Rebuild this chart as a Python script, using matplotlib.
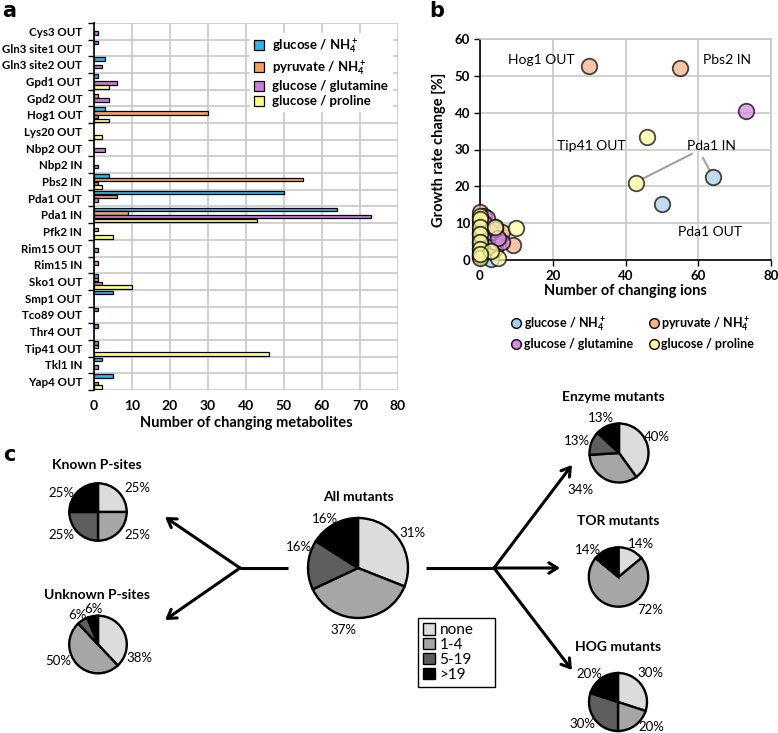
import matplotlib
matplotlib.use('Agg')
import matplotlib.pyplot as plt
from matplotlib.patches import Patch
from matplotlib.lines import Line2D
import numpy as np

plt.rcParams['font.family'] = ['Lato', 'DejaVu Sans']
plt.rcParams['mathtext.default'] = 'regular'

# ---------------- data ----------------
# panel a
mutants = ["Cys3 OUT", "Gln3 site1 OUT", "Gln3 site2 OUT", "Gpd1 OUT", "Gpd2 OUT",
           "Hog1 OUT", "Lys20 OUT", "Nbp2 OUT", "Nbp2 IN", "Pbs2 IN", "Pda1 OUT",
           "Pda1 IN", "Pfk2 IN", "Rim15 OUT", "Rim15 IN", "Sko1 OUT", "Smp1 OUT",
           "Tco89 OUT", "Thr4 OUT", "Tip41 OUT", "Tkl1 IN", "Yap4 OUT"]
met_glc_nh4 = [0, 1, 3, 1, 0, 3, 0, 0, 0, 4, 50, 64, 0, 0, 0, 1, 5, 1, 1, 1, 2, 5]
met_pyr_nh4 = [0, 0, 0, 0, 1, 30, 0, 0, 0, 55, 6, 9, 1, 0, 1, 1, 0, 0, 0, 1, 0, 0]
met_glc_gln = [1, 0, 2, 6, 4, 1, 0, 3, 1, 1, 1, 73, 0, 1, 0, 2, 0, 0, 0, 0, 1, 1]
met_glc_pro = [0, 0, 0, 4, 0, 4, 2, 0, 0, 2, 0, 43, 5, 0, 0, 10, 0, 0, 0, 46, 0, 2]
conditions = ["glucose / NH$_4^+$", "pyruvate / NH$_4^+$", "glucose / glutamine", "glucose / proline"]

# panel b
ions_glc_nh4 = [64, 50, 0, 0, 0, 0, 0, 0, 1, 3, 4, 2]
growth_glc_nh4 = [22.5, 15.2, 1, 3, 5, 7, 9, 11, 2, 0.3, 9, 6]
ions_pyr_nh4 = [30, 55, 9, 6, 0, 0, 0, 0, 4, 1]
growth_pyr_nh4 = [52.7, 52.2, 4, 7.5, 13, 10, 6, 2, 3, 12]
ions_glc_gln = [73, 2, 4, 6, 0, 0, 0, 1, 3, 4, 5]
growth_glc_gln = [40.5, 11.5, 5, 5, 8, 4, 1, 10, 7.5, 8.5, 6]
ions_glc_pro = [46, 43, 10, 5, 0, 0, 0, 0, 0, 0, 0, 3, 4, 0]
growth_glc_pro = [33.5, 21, 8.7, 0.5, 12, 11, 9, 7, 5, 3, 0.5, 2.5, 9, 1.5]

# panel c
classes = ["none", "1-4", "5-19", ">19"]
pie_known = [25, 25, 25, 25]
pie_unknown = [38, 50, 6, 6]
pie_all = [31, 37, 16, 16]
pie_enzyme = [40, 34, 13, 13]
pie_tor = [14, 72, 0, 14]
pie_hog = [30, 20, 30, 20]

# ---------------- figure ----------------
W, H = 778, 733
fig = plt.figure(figsize=(W / 100, H / 100), dpi=100)


def rect(l, t, r, b):
    return [l / W, 1 - b / H, (r - l) / W, (b - t) / H]


GRID = '#c8c8c8'

# ---------------- panel a ----------------
bar_cols = ['#2CB5EC', '#F6A25C', '#C77DDB', '#FFFF80']
axa = fig.add_axes(rect(94, 23, 398, 390))
ypos = np.arange(len(mutants))
offsets = [-0.33, -0.11, 0.11, 0.33]
for vals, off, col in zip([met_glc_nh4, met_pyr_nh4, met_glc_gln, met_glc_pro], offsets, bar_cols):
    vals = np.asarray(vals, dtype=float)
    nz = vals > 0
    axa.barh(ypos[nz] + off, vals[nz], height=0.21, color=col, edgecolor='black',
             linewidth=0.9, zorder=3)
axa.set_xlim(0, 80)
axa.set_ylim(len(mutants) - 0.5, -0.5)
axa.set_xticks(np.arange(0, 81, 10))
axa.set_yticks(ypos)
axa.set_yticklabels(mutants, fontsize=8.3, fontweight='bold')
axa.set_yticks(np.arange(-0.5, len(mutants), 1), minor=True)
axa.tick_params(axis='y', which='major', length=0, pad=8.5)
axa.tick_params(axis='y', which='minor', length=4, width=1, direction='out')
axa.tick_params(axis='x', length=0, pad=7, labelsize=10)
for t in axa.get_xticklabels():
    t.set_fontweight('bold')
axa.grid(axis='x', color=GRID, lw=1.2, zorder=0)
axa.grid(axis='y', which='minor', color=GRID, lw=1.2, zorder=0)
for s in ['top', 'right', 'bottom']:
    axa.spines[s].set_visible(False)
axa.spines['left'].set_linewidth(1.2)
axa.set_axisbelow(True)
axa.set_xlabel("Number of changing metabolites", fontsize=10.5, fontweight='bold', labelpad=3)
handles_a = [Patch(facecolor=c, edgecolor='black', linewidth=0.9) for c in bar_cols]
leg_a = axa.legend(handles_a, conditions, loc='upper left',
                   bbox_to_anchor=(243 / W, 1 - 26 / H), bbox_transform=fig.transFigure,
                   prop={'weight': 'bold', 'size': 9.5}, frameon=True, fancybox=False,
                   edgecolor='white', framealpha=1, handlelength=0.8, handleheight=0.8,
                   handletextpad=0.6, labelspacing=0.22, borderpad=0.3)

# ---------------- panel b ----------------
pt_cols = ['#A7CDE8', '#F4B183', '#D38BDB', '#FFFFA0']
axb = fig.add_axes(rect(480, 39, 771, 260))
series = [(ions_glc_nh4, growth_glc_nh4), (ions_pyr_nh4, growth_pyr_nh4),
          (ions_glc_gln, growth_glc_gln), (ions_glc_pro, growth_glc_pro)]
for (xs, ys), col in zip(series, pt_cols):
    axb.scatter(xs, ys, s=125, facecolor=col, edgecolor='black', linewidth=1.3,
                alpha=0.72, zorder=3, clip_on=False)
axb.set_xlim(0, 80)
axb.set_ylim(0, 60)
axb.set_xticks(np.arange(0, 81, 20))
axb.set_yticks(np.arange(0, 61, 10))
axb.grid(color=GRID, lw=1.2, zorder=0)
axb.set_axisbelow(True)
for s in ['top', 'right']:
    axb.spines[s].set_color(GRID)
    axb.spines[s].set_linewidth(1.2)
for s in ['left', 'bottom']:
    axb.spines[s].set_linewidth(1.2)
axb.tick_params(length=4, width=1, direction='out', labelsize=9.5, pad=3)
for t in axb.get_xticklabels() + axb.get_yticklabels():
    t.set_fontweight('bold')
axb.set_xlabel("Number of changing ions", fontsize=10.5, fontweight='bold', labelpad=2)
axb.set_ylabel("Growth rate change [%]", fontsize=10.5, fontweight='bold', labelpad=6)

ann = dict(fontsize=10, va='center', ha='left')
axb.text(7.7, 54.3, "Hog1 OUT", **ann)
axb.text(61.3, 54.3, "Pbs2 IN", **ann)
axb.text(21.1, 31, "Tip41 OUT", **ann)
axb.text(57, 31, "Pda1 IN", **ann)
axb.text(54.5, 7.6, "Pda1 OUT", **ann)
axb.plot([58.2, 44.6], [28.8, 22.0], color='#a0a0a0', lw=1.5, zorder=2)
axb.plot([61.3, 63.2], [27.7, 24.2], color='#a0a0a0', lw=1.5, zorder=2)

handles_b = [Line2D([], [], ls='none', marker='o', markersize=7, markerfacecolor=c,
                    markeredgecolor='black', markeredgewidth=1.0) for c in pt_cols]
order = [0, 2, 1, 3]
fig.legend([handles_b[i] for i in order], [conditions[i] for i in order],
           loc='upper center', bbox_to_anchor=(632 / W, 1 - 303 / H), ncol=2,
           frameon=False, prop={'weight': 'bold', 'size': 9}, handletextpad=0.1,
           columnspacing=1.2, labelspacing=0.4, handlelength=1.0)

# ---------------- panel c ----------------
axc = fig.add_axes([0, 0, 1, 1])
axc.set_zorder(-1)
pie_cols = ['#dcdcdc', '#a6a6a6', '#5e5e5e', '#000000']


def Y(y):
    return H - y


pies = [
    ("Known P-sites", pie_known, (98, 512), 28.7, (97, 465),
     [(137, 488), (137, 535), (61, 535), (61, 493)]),
    ("Unknown P-sites", pie_unknown, (98, 644.5), 28.8, (97, 595),
     [(139, 658), (58, 661), (77, 615), (93, 609)]),
    ("All mutants", pie_all, (358, 568), 50, (358, 497),
     [(412, 533), (343, 630), (299, 547), (325, 519)]),
    ("Enzyme mutants", pie_enzyme, (619, 453), 29.5, (613, 397),
     [(657, 437), (580, 490), (577, 441), (601, 418)]),
    ("TOR mutants", pie_tor, (618.5, 577), 29.7, (618, 521),
     [(641, 544), (650, 610), None, (588, 550)]),
    ("HOG mutants", pie_hog, (618, 702), 29, (618, 647),
     [(650, 673), (651, 727), (582, 724), (589, 674)]),
]
for title, vals, (cx, cy), r, (tx, ty), lpos in pies:
    axc.pie(vals, colors=pie_cols, startangle=90, counterclock=False,
            center=(cx, Y(cy)), radius=r, frame=True,
            wedgeprops=dict(edgecolor='black', linewidth=1.7))
    axc.text(tx, Y(ty), title, ha='center', va='center', fontsize=10, fontweight='bold')
    for v, p in zip(vals, lpos):
        if p is None or v == 0:
            continue
        axc.text(p[0], Y(p[1]), f"{v}%", ha='center', va='center', fontsize=9.5)

arrow_kw = dict(arrowstyle='->,head_length=0.6,head_width=0.38', lw=2.2, color='black',
                shrinkA=0, shrinkB=0)
# left fork
axc.plot([240, 288], [Y(568), Y(568)], color='black', lw=2.2, solid_capstyle='butt')
for hx, hy in [(165, 517), (165, 620)]:
    axc.annotate('', xy=(hx, Y(hy)), xytext=(240, Y(568)), arrowprops=arrow_kw)
# right fork
axc.plot([426, 494], [Y(568), Y(568)], color='black', lw=2.2, solid_capstyle='butt')
for hx, hy in [(572, 465), (560, 568), (572, 670)]:
    axc.annotate('', xy=(hx, Y(hy)), xytext=(494, Y(568)), arrowprops=arrow_kw)

axc.set_xlim(0, W)
axc.set_ylim(0, H)
axc.axis('off')

handles_c = [Patch(facecolor=c, edgecolor='black', linewidth=1.0) for c in pie_cols]
axc.legend(handles_c, classes, loc='upper left', mode='expand',
           bbox_to_anchor=(418 / W, 1 - 686 / H, 77 / W, 68 / H),
           bbox_transform=fig.transFigure, frameon=True, fancybox=False,
           edgecolor='black', framealpha=1, fontsize=11, handlelength=0.75,
           handleheight=0.75, handletextpad=0.3, labelspacing=0.05, borderpad=0.35,
           borderaxespad=0)

# panel letters
fig.text(2 / W, 1 - 11 / H, "a", fontsize=15, fontweight='bold', va='center', family='DejaVu Sans')
fig.text(429 / W, 1 - 11 / H, "b", fontsize=15, fontweight='bold', va='center', family='DejaVu Sans')
fig.text(3 / W, 1 - 455 / H, "c", fontsize=15, fontweight='bold', va='center', family='DejaVu Sans')

fig.savefig('out.png', dpi=100)
